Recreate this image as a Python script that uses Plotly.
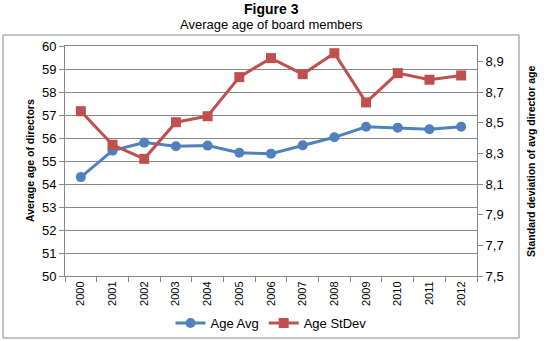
import plotly.graph_objects as go

years = ["2000", "2001", "2002", "2003", "2004", "2005", "2006",
         "2007", "2008", "2009", "2010", "2011", "2012"]
age_avg = [54.3, 55.45, 55.8, 55.64, 55.67, 55.36, 55.32,
           55.68, 56.03, 56.49, 56.45, 56.38, 56.49]
age_stdev = [8.575, 8.356, 8.264, 8.503, 8.542, 8.797, 8.921,
             8.816, 8.953, 8.632, 8.823, 8.78, 8.808]

left_ticks = list(range(50, 61))
right_ticks = [7.5, 7.7, 7.9, 8.1, 8.3, 8.5, 8.7, 8.9]
right_ticktext = ["7,5", "7,7", "7,9", "8,1", "8,3", "8,5", "8,7", "8,9"]

BLUE = "#4F81BD"
RED = "#C0504D"
GRID = "#878787"
FONT = "Liberation Sans, Arial, sans-serif"

fig = go.Figure()
fig.add_trace(go.Scatter(
    x=years, y=age_avg, name="Age Avg", mode="lines+markers",
    line=dict(color=BLUE, width=3),
    marker=dict(symbol="circle", size=10, color=BLUE),
    yaxis="y"))
fig.add_trace(go.Scatter(
    x=years, y=age_stdev, name="Age StDev", mode="lines+markers",
    line=dict(color=RED, width=3),
    marker=dict(symbol="square", size=10, color=RED),
    yaxis="y2"))

L, R, T, B = 65, 74, 46, 65
W, H = 551, 341
pw, ph = W - L - R, H - T - B


def px_x(p):
    return (p - L) / pw


def px_y(p):
    return (H - B - p) / ph


fig.update_layout(
    template="none",
    width=W, height=H,
    margin=dict(l=L, r=R, t=T, b=B, autoexpand=False),
    paper_bgcolor="white", plot_bgcolor="white",
    font=dict(family=FONT, size=13, color="#000000"),
    showlegend=True,
    legend=dict(orientation="h", x=0.5, xanchor="center",
                y=px_y(323), yanchor="middle",
                font=dict(size=13), itemwidth=30,
                bgcolor="rgba(0,0,0,0)"),
    xaxis=dict(
        type="category", range=[-0.5, 12.5], automargin=False,
        tickson="boundaries", ticks="outside", ticklen=5,
        tickcolor=GRID, tickangle=-90,
        tickfont=dict(size=11),
        showline=True, linecolor=GRID, linewidth=1, mirror=True,
        showgrid=False, zeroline=False),
    yaxis=dict(
        range=[50, 60], tickvals=left_ticks, automargin=False,
        ticks="outside", ticklen=5, tickcolor=GRID,
        tickfont=dict(size=13),
        showline=True, linecolor=GRID, linewidth=1, mirror=True,
        showgrid=True, gridcolor=GRID, gridwidth=1, zeroline=False),
    yaxis2=dict(
        overlaying="y", side="right", automargin=False,
        range=[7.5, 9.0], tickvals=right_ticks, ticktext=right_ticktext,
        ticks="outside", ticklen=5, tickcolor=GRID,
        tickfont=dict(size=13),
        showline=True, linecolor=GRID, linewidth=1,
        showgrid=False, zeroline=False),
    annotations=[
        dict(text="<b>Figure 3</b>", x=0.5, y=px_y(9),
             xref="paper", yref="paper", xanchor="center", yanchor="middle",
             showarrow=False, font=dict(size=14)),
        dict(text="Average age of board members", x=0.5, y=px_y(24),
             xref="paper", yref="paper", xanchor="center", yanchor="middle",
             showarrow=False, font=dict(size=13)),
        dict(text="<b>Average age of directors</b>", x=px_x(30), y=0.5,
             xref="paper", yref="paper", xanchor="center", yanchor="middle",
             textangle=-90, showarrow=False, font=dict(size=10.5)),
        dict(text="<b>Standard deviation of avg director age</b>",
             x=px_x(531), y=0.5,
             xref="paper", yref="paper", xanchor="center", yanchor="middle",
             textangle=-90, showarrow=False, font=dict(size=10.5)),
    ],
    shapes=[
        dict(type="rect", xref="paper", yref="paper",
             x0=px_x(3), x1=px_x(519), y0=px_y(338), y1=px_y(35),
             line=dict(color=GRID, width=1), layer="below"),
    ],
)

fig.write_html("out.html",
               config={"displayModeBar": False, "staticPlot": True},
               post_script="document.body.style.margin='0';"
                           "document.body.style.padding='0';")
